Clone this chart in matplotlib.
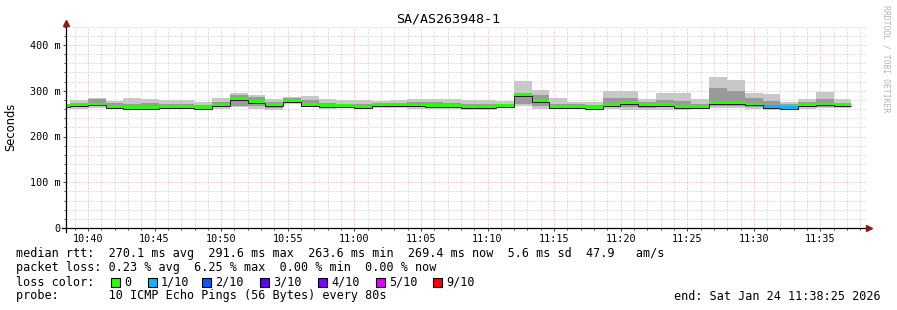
import matplotlib
matplotlib.use("Agg")
import matplotlib.pyplot as plt
from matplotlib.patches import Rectangle
import numpy as np

# SmokePing-style latency graph, 80 s steps, minutes relative to 10:40
median = [268, 270, 271, 266, 264, 264, 265, 265, 264, 269, 283, 277, 270, 279, 270,
          267, 267, 266, 270, 270, 269, 268, 267, 265, 265, 268, 291.6, 279, 265, 265,
          264, 270, 275, 270, 270, 266, 266, 274, 274, 271, 266, 263.6, 270, 271, 269.4]
smoke_hi = [272, 280, 284, 278, 284, 282, 280, 279, 276, 284, 295, 291, 281, 286, 288,
            281, 280, 279, 278, 279, 283, 283, 282, 280, 280, 278, 321, 302, 285, 275,
            276, 299, 299, 282, 294, 296, 283, 331, 324, 296, 293, 276, 283, 298, 282]
smoke_lo = [263, 261, 262, 261, 259, 259, 260, 260, 260, 261, 264, 261, 259, 271, 266,
            261, 262, 261, 262, 262, 260, 260, 260, 259, 259, 262, 266, 261, 261, 261,
            260, 260, 258, 257, 259, 259, 260, 262, 262, 260, 259, 258, 261, 262, 262]
inner_hi = [270, 273, 281, 274, 272, 273, 271, 270, 268, 275, 290, 286, 276, 284, 280,
            273, 272, 271, 273, 274, 276, 276, 274, 272, 272, 272, 296, 290, 272, 270,
            269, 284, 285, 276, 280, 278, 272, 305, 300, 285, 278, 272, 276, 282, 274]
inner_lo = [266, 264, 267, 263, 262, 262, 263, 262, 262, 264, 266, 266, 263, 274, 266,
            263, 264, 263, 265, 266, 264, 263, 263, 262, 262, 264, 272, 266, 262, 263,
            262, 264, 265, 263, 264, 262, 262, 266, 267, 264, 262, 261, 264, 265, 264]
loss = [0] * 40 + [1, 1] + [0, 0, 0]

loss_labels = ["0", "1/10", "2/10", "3/10", "4/10", "5/10", "9/10"]
loss_colors = ["#26ff00", "#00b8ff", "#0059ff", "#5e00ff", "#7e00ff", "#dd00ff", "#ff0000"]
tick_labels = ["10:40", "10:45", "10:50", "10:55", "11:00", "11:05", "11:10",
               "11:15", "11:20", "11:25", "11:30", "11:35"]
ytick_labels = ["0", "100 m", "200 m", "300 m", "400 m"]

W, H = 897, 310
fig = plt.figure(figsize=(W / 100, H / 100), dpi=100)
fig.patch.set_facecolor("white")

x0, x1 = -1.65, 58.42
ax = fig.add_axes([66 / W, 1 - 228 / H, 800 / W, (228 - 26.7) / H])
ax.set_xlim(x0, x1)
ax.set_ylim(0, 440)
for s in ax.spines.values():
    s.set_visible(False)

step = 80 / 60
edges = -1.35 - step + step * np.arange(len(median) + 1)
left = edges[:-1]
med = np.array(median)

# grid
minor = dict(color="#c4c4c4", lw=0.72, ls=(0, (1, 2)), zorder=0)
major = dict(color="#f0a0a0", lw=0.72, ls=(0, (1, 2)), zorder=0)
for m in range(-1, 59):
    ax.axvline(m, **(major if m % 5 == 0 else minor))
for v in range(20, 441, 20):
    ax.axhline(v, **(major if v % 100 == 0 else minor))

# smoke
ax.bar(left, np.array(smoke_hi) - np.array(smoke_lo), width=step, bottom=smoke_lo,
       align="edge", color="#c8c8c8", lw=0, zorder=2)
ax.bar(left, np.array(inner_hi) - np.array(inner_lo), width=step, bottom=inner_lo,
       align="edge", color="#9a9a9a", lw=0, zorder=3)

# median
cols = [loss_colors[l] for l in loss]
ax.bar(left, 6, width=step, bottom=med - 3, align="edge", color=cols, lw=0, zorder=4)
ax.stairs(med - 3, edges, baseline=None, color="#202020", lw=0.7, zorder=5)

# axes with arrows
ax.plot([x0 - 4 / 13.33, x1 + 0.2], [0, 0], color="black", lw=0.9, clip_on=False, zorder=6)
ax.plot([x0, x0], [-8, 446], color="black", lw=0.9, clip_on=False, zorder=6)
ax.plot([x0], [448], marker="^", ms=4, color="#8b1a1a", clip_on=False, zorder=7)
ax.plot([x1 + 0.25], [0], marker=">", ms=4, color="#8b1a1a", clip_on=False, zorder=7)

mono = "DejaVu Sans Mono"
ax.set_xticks(np.arange(0, 56, 5), tick_labels, fontfamily=mono, fontsize=7.3)
ax.set_xticks(np.arange(-1, 59), minor=True)
ax.set_yticks([0, 100, 200, 300, 400], ytick_labels, fontfamily=mono, fontsize=7.3)
ax.set_yticks(np.arange(0, 441, 20), minor=True)
ax.tick_params(axis="both", which="major", length=2.2, width=0.7, color="#404040", pad=2)
ax.tick_params(axis="both", which="minor", length=1.4, width=0.7, color="#404040")

# titles
fig.text(448 / W, 1 - 19 / H, "SA/AS263948-1", ha="center", va="center",
         fontfamily=mono, fontsize=9.6)
fig.text(11 / W, 1 - 127 / H, "Seconds", rotation=90, ha="center", va="center",
         fontfamily="DejaVu Sans", fontsize=8.3)
fig.text(886 / W, 1 - 5 / H, "RRDTOOL / TOBI OETIKER", rotation=270, ha="center",
         va="top", fontfamily=mono, fontsize=5.9, color="#b4b4b4")

# legend lines
fs = 8.5
rows = [
    (254, "median rtt:  270.1 ms avg  291.6 ms max  263.6 ms min  269.4 ms now  5.6 ms sd  47.9   am/s"),
    (268, "packet loss: 0.23 % avg  6.25 % max  0.00 % min  0.00 % now"),
    (282, "loss color:"),
    (296, "probe:       10 ICMP Echo Pings (56 Bytes) every 80s"),
]
for y, txt in rows:
    fig.text(16 / W, 1 - y / H, txt, ha="left", va="center", fontfamily=mono, fontsize=fs)
fig.text(881 / W, 1 - 296 / H, "end: Sat Jan 24 11:38:25 2026", ha="right", va="center",
         fontfamily=mono, fontsize=fs)

box_x = [111, 148, 202, 260, 318, 376, 433]
for bx, lab, c in zip(box_x, loss_labels, loss_colors):
    fig.add_artist(Rectangle((bx / W, 1 - 286.5 / H), 9 / W, 9 / H, transform=fig.transFigure,
                             facecolor=c, edgecolor="black", lw=0.8))
    fig.text((bx + 13) / W, 1 - 282 / H, lab, ha="left", va="center",
             fontfamily=mono, fontsize=fs)

fig.savefig("out.png", dpi=100)
